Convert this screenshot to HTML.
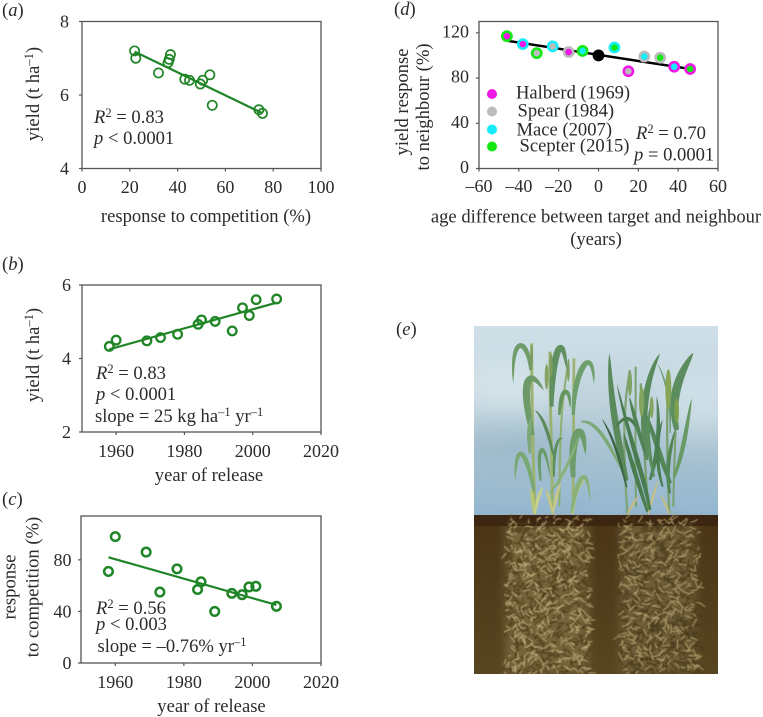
<!DOCTYPE html>
<html lang="en">
<head>
<meta charset="utf-8">
<title>Wheat yield and competition</title>
<style>
html,body{margin:0;padding:0;background:#fff;}
#fig{display:block;width:763px;height:717px;}
text{font-family:"Liberation Serif",serif;font-size:18.6px;fill:#2b2b2b;}
.it{font-style:italic;}
.sup{font-size:12.5px;}
</style>
</head>
<body>
<svg id="fig" xmlns="http://www.w3.org/2000/svg" width="763" height="717" viewBox="0 0 763 717">
  <defs>
    <filter id="soft" x="-5%" y="-5%" width="110%" height="110%"><feGaussianBlur stdDeviation="0.5"/></filter>
    <filter id="cloud" x="-50%" y="-80%" width="200%" height="260%"><feGaussianBlur stdDeviation="18"/></filter>
    <filter id="rootedge" x="-20%" y="-20%" width="140%" height="140%"><feGaussianBlur stdDeviation="5"/></filter>
    <linearGradient id="sky" x1="0" y1="0" x2="0" y2="1">
      <stop offset="0" stop-color="#cfe0e8"/>
      <stop offset="0.4" stop-color="#bfd2dc"/>
      <stop offset="0.65" stop-color="#a9c3d1"/>
      <stop offset="1" stop-color="#93b6cf"/>
    </linearGradient>
    <linearGradient id="soil" x1="0" y1="0" x2="0" y2="1">
      <stop offset="0" stop-color="#493416"/>
      <stop offset="1" stop-color="#574620"/>
    </linearGradient>
    <clipPath id="photo-clip"><rect x="474" y="326" width="244" height="348"/></clipPath>
  </defs>

  <!-- Panel a -->
  <g>
    <text x="2" y="16">(<tspan class="it">a</tspan>)</text>
    <g id="a-axes"></g>
    <g id="a-marks"></g>
    <text x="206" y="222" text-anchor="middle">response to competition (%)</text>
    <text transform="translate(39,94) rotate(-90)" text-anchor="middle">yield (t ha<tspan class="sup" dy="-6">–1</tspan><tspan dy="6">)</tspan></text>
    <text x="94" y="123"><tspan class="it">R</tspan><tspan class="sup" dy="-6">2</tspan><tspan dy="6"> = 0.83</tspan></text>
    <text x="94" y="144"><tspan class="it">p</tspan> &lt; 0.0001</text>
  </g>

  <!-- Panel b -->
  <g>
    <text x="2" y="270">(<tspan class="it">b</tspan>)</text>
    <g id="b-axes"></g>
    <g id="b-marks"></g>
    <text x="209" y="481" text-anchor="middle">year of release</text>
    <text transform="translate(39,355) rotate(-90)" text-anchor="middle">yield (t ha<tspan class="sup" dy="-6">–1</tspan><tspan dy="6">)</tspan></text>
    <text x="96" y="379"><tspan class="it">R</tspan><tspan class="sup" dy="-6">2</tspan><tspan dy="6"> = 0.83</tspan></text>
    <text x="96" y="400"><tspan class="it">p</tspan> &lt; 0.0001</text>
    <text x="95" y="422">slope = 25 kg ha<tspan class="sup" dy="-6">–1</tspan><tspan dy="6"> yr</tspan><tspan class="sup" dy="-6">–1</tspan></text>
  </g>

  <!-- Panel c -->
  <g>
    <text x="2" y="505">(<tspan class="it">c</tspan>)</text>
    <g id="c-axes"></g>
    <g id="c-marks"></g>
    <text x="211.5" y="712" text-anchor="middle">year of release</text>
    <text transform="translate(15.5,587) rotate(-90)" text-anchor="middle">response</text>
    <text transform="translate(38.5,587) rotate(-90)" text-anchor="middle">to competition (%)</text>
    <text x="96" y="614"><tspan class="it">R</tspan><tspan class="sup" dy="-6">2</tspan><tspan dy="6"> = 0.56</tspan></text>
    <text x="96" y="630"><tspan class="it">p</tspan> &lt; 0.003</text>
    <text x="97.5" y="652">slope = –0.76% yr<tspan class="sup" dy="-6">–1</tspan></text>
  </g>

  <!-- Panel d -->
  <g>
    <text x="394" y="15">(<tspan class="it">d</tspan>)</text>
    <g id="d-axes"></g>
    <g id="d-marks"></g>
    <text x="596" y="222.5" text-anchor="middle">age difference between target and neighbour</text>
    <text x="596" y="245" text-anchor="middle">(years)</text>
    <text transform="translate(408,102) rotate(-90)" text-anchor="middle">yield response</text>
    <text transform="translate(429,107) rotate(-90)" text-anchor="middle">to neighbour (%)</text>
    <g id="d-legend"></g>
    <text x="636" y="139"><tspan class="it">R</tspan><tspan class="sup" dy="-6">2</tspan><tspan dy="6"> = 0.70</tspan></text>
    <text x="634" y="160.5"><tspan class="it">p</tspan> = 0.0001</text>
  </g>

  <!-- Panel e -->
  <g>
    <text x="396" y="335">(<tspan class="it">e</tspan>)</text>
    <g clip-path="url(#photo-clip)">
      <rect x="474" y="326" width="244" height="190" fill="url(#sky)"/>
      <g filter="url(#cloud)">
        <ellipse cx="505" cy="385" rx="50" ry="24" fill="#d8e6ec"/>
        <ellipse cx="700" cy="395" rx="40" ry="34" fill="#d0e0e8"/>
        <ellipse cx="520" cy="450" rx="60" ry="20" fill="#9cb9ca"/>
      </g>
      <rect x="474" y="515" width="244" height="159" fill="url(#soil)"/>
      <g filter="url(#rootedge)">
        <rect x="506" y="522" width="82" height="152" fill="#75633b"/>
        <rect x="621" y="522" width="74" height="152" fill="#6e5d37"/>
      </g>
      <rect x="474" y="515" width="244" height="11" fill="#3c2611"/>
      <g id="roots" filter="url(#soft)"></g>
      <g id="plants" transform="translate(470,320) scale(0.33333)" filter="url(#soft)"></g>
    </g>
  </g>
</svg>

<script>
// ---- Panel a data ----
const aResponse = [22, 22.5, 32, 36, 36.5, 37, 43, 45, 49.5, 50.5, 53.5, 54.5, 74, 75.5];
const aYield = [7.2, 7.0, 6.6, 6.88, 6.97, 7.1, 6.43, 6.4, 6.3, 6.4, 6.55, 5.72, 5.6, 5.5];
const aFitX = [22, 75];
const aFitY = [7.18, 5.52];
const aXTicks = [0, 20, 40, 60, 80, 100];
const aYTicks = [4, 6, 8];

// ---- Panel b data ----
const bYears = [1958, 1960, 1969, 1973, 1978, 1984, 1985, 1989, 1994, 1997, 1999, 2001, 2007];
const bYield = [4.33, 4.5, 4.48, 4.57, 4.66, 4.93, 5.05, 5.01, 4.75, 5.38, 5.17, 5.6, 5.62];
const bFitX = [1958, 2007];
const bFitY = [4.25, 5.52];
const bXTicks = [1960, 1980, 2000, 2020];
const bYTicks = [2, 4, 6];

// ---- Panel c data ----
const cYears = [1958, 1960, 1969, 1973, 1978, 1984, 1985, 1989, 1994, 1997, 1999, 2001, 2007];
const cResponse = [71, 98, 86, 55, 73, 57, 63, 40, 54, 53, 59, 59.5, 44];
const cFitX = [1958, 2007];
const cFitY = [82, 45];
const cXTicks = [1960, 1980, 2000, 2020];
const cYTicks = [0, 40, 80];

// ---- Panel d data ----
const dAge = [-46, -38, -31, -23, -15, -8, 0, 8, 15, 23, 31, 38, 46];
const dResponse = [117, 110, 102, 108, 103, 104, 100, 107, 86, 99, 98, 90, 88];
const dTarget = ['Scepter', 'Mace', 'Scepter', 'Mace', 'Spear', 'Scepter', 'Black', 'Mace', 'Halberd', 'Spear', 'Spear', 'Halberd', 'Halberd'];
const dNeighbour = ['Halberd', 'Halberd', 'Spear', 'Spear', 'Halberd', 'Mace', 'Black', 'Scepter', 'Spear', 'Mace', 'Scepter', 'Mace', 'Scepter'];
const dFitX = [-46, 46];
const dFitY = [113, 88];
const dXTicks = [-60, -40, -20, 0, 20, 40, 60];
const dYTicks = [0, 40, 80, 120];
const dLegendNames = ['Halberd', 'Spear', 'Mace', 'Scepter'];
const dLegendLabels = ['Halberd (1969)', 'Spear (1984)', 'Mace (2007)', 'Scepter (2015)'];

const SVGNS = 'http://www.w3.org/2000/svg';
const GREEN = '#1f8526';
const AXIS = '#555555';
const VARIETY = {Halberd: '#f018e6', Spear: '#bcbcbc', Mace: '#14ecfa', Scepter: '#14e814', Black: '#000000'};

function scale(d0, d1, r0, r1) {
  return function (v) { return r0 + (v - d0) * (r1 - r0) / (d1 - d0); };
}
function make(tag, parent, attrs) {
  const el = document.createElementNS(SVGNS, tag);
  for (const k in attrs) el.setAttribute(k, attrs[k]);
  parent.appendChild(el);
  return el;
}
function fmt(v) { return String(v).replace('-', '\u2013'); }

function drawAxes(id, box, x, y, xTicks, yTicks, xLabelY, yLabelX, yBaseOffset) {
  const g = document.getElementById(id);
  const frame = make('rect', g, {x: box.l, y: box.t, width: box.r - box.l, height: box.b - box.t, fill: 'none', stroke: AXIS, 'stroke-width': 1.3});
  
  
  xTicks.forEach(function (t) {
    const mark = make('line', g, {x1: x(t), x2: x(t), y1: box.b, y2: box.b + 3, stroke: AXIS, 'stroke-width': 1.2});
    
    
    const lab = make('text', g, {x: x(t), y: xLabelY, 'text-anchor': 'middle', style: 'font-size:18px'});
    
    
    lab.textContent = fmt(t);
  });
  yTicks.forEach(function (t) {
    const mark = make('line', g, {x1: box.l - 3, x2: box.l, y1: y(t), y2: y(t), stroke: AXIS, 'stroke-width': 1.2});
    
    
    const lab = make('text', g, {x: yLabelX, y: y(t) + yBaseOffset, 'text-anchor': 'end', style: 'font-size:18px'});
    
    
    lab.textContent = fmt(t);
  });
}
function drawFit(g, x, y, xs, ys, color, w) {
  const fit = make('line', g, {x1: x(xs[0]), y1: y(ys[0]), x2: x(xs[1]), y2: y(ys[1]), stroke: color, 'stroke-width': w});
  
  
}
function drawRings(id, x, y, xs, ys, fitX, fitY, r, sw) {
  const g = document.getElementById(id);
  drawFit(g, x, y, fitX, fitY, GREEN, 2.2);
  xs.forEach(function (v, i) {
    const pt = make('circle', g, {cx: x(v), cy: y(ys[i]), r: r, fill: 'none', stroke: GREEN, 'stroke-width': sw});
    
    
  });
}

// Panel a
const aBox = {l: 82, r: 321, t: 21.5, b: 168.5};
const ax = scale(0, 100, aBox.l, aBox.r), ay = scale(4, 8, aBox.b, aBox.t);
drawAxes('a-axes', aBox, ax, ay, aXTicks, aYTicks, 193, 69, 6);
drawRings('a-marks', ax, ay, aResponse, aYield, aFitX, aFitY, 4.6, 1.7);

// Panel b
const bBox = {l: 82, r: 321, t: 285, b: 432};
const bx = scale(1950, 2020, bBox.l, bBox.r), by = scale(2, 6, bBox.b, bBox.t);
drawAxes('b-axes', bBox, bx, by, bXTicks, bYTicks, 457, 71, 6);
drawRings('b-marks', bx, by, bYears, bYield, bFitX, bFitY, 4.3, 2.3);

// Panel c
const cBox = {l: 81, r: 321, t: 516, b: 663};
const cx = scale(1950, 2020, cBox.l, cBox.r), cy = scale(0, 114, cBox.b, cBox.t);
drawAxes('c-axes', cBox, cx, cy, cXTicks, cYTicks, 688, 71.5, 6);
drawRings('c-marks', cx, cy, cYears, cResponse, cFitX, cFitY, 4.3, 2.5);

// Panel d
const dBox = {l: 479, r: 718, t: 21.5, b: 168.5};
const dx = scale(-60, 60, dBox.l, dBox.r), dy = scale(0, 130, dBox.b, dBox.t);
drawAxes('d-axes', dBox, dx, dy, dXTicks, dYTicks, 192, 469, 4.5);
const dMarks = document.getElementById('d-marks');
drawFit(dMarks, dx, dy, dFitX, dFitY, '#000000', 2.4);
dAge.forEach(function (v, i) {
  const pt = make('circle', dMarks, {cx: dx(v), cy: dy(dResponse[i]), r: 4.6, fill: VARIETY[dNeighbour[i]], stroke: VARIETY[dTarget[i]], 'stroke-width': 2.6});
  
  
});
const legendG = document.getElementById('d-legend');
const legendLabelX = [516, 517.5, 516.5, 519.5];
const legendLabelY = [98.5, 116.5, 135.5, 151.5];
const legendDotY = [94, 111.5, 129.5, 146.5];
dLegendNames.forEach(function (n, i) {
  const dot = make('circle', legendG, {cx: 492, cy: legendDotY[i], r: 5, fill: VARIETY[n]});
  
  
  const lab = make('text', legendG, {x: legendLabelX[i], y: legendLabelY[i]});
  
  
  lab.textContent = dLegendLabels[i];
});

// ---- Illustration: roots (deterministic texture) ----
let seed = 20231;
function rnd() { seed = (seed * 1664525 + 1013904223) % 4294967296; return seed / 4294967296; }
function rootStrokes(x0, x1, y0, y1, n, len) {
  let d = '';
  for (let i = 0; i < n; i++) {
    const px = x0 + (x1 - x0) * rnd();
    const py = y0 + (y1 - y0) * rnd();
    const a = (rnd() - 0.5) * 2.2 + (rnd() < 0.75 ? 0 : Math.PI / 2);
    const l = len * (0.4 + rnd());
    const qx = px + Math.cos(a) * l * 0.5 + (rnd() - 0.5) * 3;
    const qy = py + Math.sin(a) * l * 0.5 + (rnd() - 0.5) * 3;
    d += 'M' + px.toFixed(1) + ' ' + py.toFixed(1) + 'Q' + qx.toFixed(1) + ' ' + qy.toFixed(1) + ' ' + (px + Math.cos(a) * l).toFixed(1) + ' ' + (py + Math.sin(a) * l).toFixed(1);
  }
  return d;
}
const rootsG = document.getElementById('roots');
const rootLayers = [
  {x0: 504, x1: 590, y0: 520, y1: 674, n: 650, len: 7, c: '#4f3f1c', w: 1.1},
  {x0: 504, x1: 590, y0: 518, y1: 674, n: 430, len: 5.5, c: '#c2ad7b', w: 0.85},
  {x0: 618, x1: 698, y0: 520, y1: 674, n: 620, len: 8, c: '#4c3c1b', w: 1.1},
  {x0: 618, x1: 698, y0: 518, y1: 674, n: 310, len: 6.5, c: '#b8a36f', w: 0.85}
];
rootLayers.forEach(function (L) {
  const p = make('path', rootsG, {d: rootStrokes(L.x0, L.x1, L.y0, L.y1, L.n, L.len), fill: 'none', stroke: L.c, 'stroke-width': L.w, 'stroke-linecap': 'round'});
  
  
});

// ---- Illustration: leaves and stems (tapered bezier shapes) ----
function blade(s, c1, c2, e, w, flat) {
  const L = [], R = [];
  const N = 18;
  for (let i = 0; i <= N; i++) {
    const t = i / N, u = 1 - t;
    const bx = u*u*u*s[0] + 3*u*u*t*c1[0] + 3*u*t*t*c2[0] + t*t*t*e[0];
    const by = u*u*u*s[1] + 3*u*u*t*c1[1] + 3*u*t*t*c2[1] + t*t*t*e[1];
    let tx = 3*u*u*(c1[0]-s[0]) + 6*u*t*(c2[0]-c1[0]) + 3*t*t*(e[0]-c2[0]);
    let ty = 3*u*u*(c1[1]-s[1]) + 6*u*t*(c2[1]-c1[1]) + 3*t*t*(e[1]-c2[1]);
    const m = Math.hypot(tx, ty) || 1; tx /= m; ty /= m;
    const hw = flat ? w / 2 : (w / 2) * Math.pow(Math.sin(Math.PI * Math.min(1, 0.12 + t * 0.88)), 0.6);
    L.push((bx - ty * hw).toFixed(1) + ' ' + (by + tx * hw).toFixed(1));
    R.unshift((bx + ty * hw).toFixed(1) + ' ' + (by - tx * hw).toFixed(1));
  }
  return 'M' + L.join('L') + 'L' + R.join('L') + 'Z';
}
const stems = [
  [[195,582],[190,420],[185,250],[185,70],9,'#9cb272'],
  [[248,582],[245,400],[240,250],[240,95],9,'#9ab272'],
  [[308,582],[312,420],[310,250],[312,115],8,'#9cb272'],
  [[268,560],[270,400],[268,280],[295,130],6,'#8fae70'],
  [[472,582],[462,420],[455,280],[480,150],7,'#7fa478'],
  [[535,582],[525,420],[515,280],[512,190],7,'#7aa070'],
  [[598,582],[590,420],[590,280],[595,150],7,'#7aa070'],
  [[610,560],[612,420],[618,330],[620,240],6,'#7aa070'],
  [[498,560],[495,400],[497,280],[497,140],6,'#7aa070']
];
const baseLeaves = [
  [[195,582],[200,540],[210,520],[218,500],10,'#c6cf8c'],
  [[192,582],[188,540],[186,520],[182,505],10,'#b9c878'],
  [[248,582],[255,540],[265,510],[272,488],9,'#c9c78c'],
  [[248,582],[240,545],[235,525],[228,508],9,'#c2c884'],
  [[308,582],[312,530],[320,500],[345,480],10,'#bcc980'],
  [[472,582],[485,560],[495,540],[505,528],7,'#c4bb85'],
  [[535,582],[545,540],[555,510],[565,480],7,'#c8c188'],
  [[598,582],[590,560],[580,540],[572,525],7,'#c4bb85']
];
const leavesLeft = [
  [[182,150],[176,60],[122,30],[130,192],15,'#6f9c6a'],
  [[245,260],[245,100],[278,15],[290,150],20,'#5f9060'],
  [[310,285],[310,150],[370,60],[372,192],17,'#6f9f6e'],
  [[188,345],[155,210],[165,120],[222,212],22,'#6d9a68'],
  [[192,515],[172,400],[138,345],[135,482],14,'#78a872'],
  [[212,482],[198,360],[226,360],[240,470],11,'#6a9a68'],
  [[310,472],[298,330],[342,285],[346,405],24,'#6c9d6a'],
  [[305,575],[322,470],[352,420],[360,542],13,'#88b078'],
  [[250,405],[235,340],[222,295],[195,270],10,'#5c8a5a'],
  [[268,285],[272,190],[302,200],[300,265],13,'#65965f'],
  [[252,470],[250,390],[262,350],[278,355],9,'#5c8f5c'],
  [[335,305],[385,300],[425,390],[465,468],11,'#7caa78'],
  [[180,400],[175,340],[178,310],[186,290],13,'#7da878'],
  [[240,520],[285,460],[300,420],[330,340],9,'#88b078']
];
const leavesRight = [
  [[470,482],[440,340],[420,240],[418,98],20,'#5a8a5c'],
  [[440,320],[470,270],[500,300],[520,380],10,'#4a7a4e'],
  [[530,420],[510,280],[530,170],[570,100],19,'#5a8a5c'],
  [[620,330],[598,230],[630,160],[670,98],26,'#5c8d5e'],
  [[612,472],[640,400],[650,320],[665,235],13,'#689a66'],
  [[470,502],[450,420],[430,350],[395,295],8,'#3d6644'],
  [[540,570],[520,460],[490,400],[440,190],14,'#4a7c50'],
  [[602,490],[572,420],[552,340],[522,270],15,'#528656'],
  [[540,480],[562,410],[572,330],[560,228],13,'#4e8054'],
  [[532,575],[502,480],[472,390],[462,340],13,'#4a7c50'],
  [[578,500],[556,430],[560,350],[578,300],10,'#4a7c50'],
  [[600,340],[604,260],[590,180],[562,130],6,'#6a9a70'],
  [[525,400],[505,330],[490,280],[478,230],12,'#4f8254'],
  [[552,470],[535,400],[530,330],[540,260],11,'#5a8d5c'],
  [[600,520],[585,450],[600,390],[615,330],12,'#528656']
];
const ears = [
  [185,112,4,36,'#7f9c60'],[230,170,6,38,'#86a266'],[243,135,5,36,'#7f9c60'],
  [295,150,4,34,'#7f9c60'],[480,190,6,38,'#7ea262'],[515,245,8,44,'#82a45c'],
  [595,208,9,60,'#86a654'],[620,272,7,38,'#7ea04e'],[545,262,6,32,'#82a45c']
];
const plantsG = document.getElementById('plants');
stems.concat(baseLeaves).forEach(function (b, i) {
  const st = make('path', plantsG, {d: blade(b[0], b[1], b[2], b[3], b[4], i < stems.length), fill: b[5]});
  
  
});
leavesLeft.concat(leavesRight).forEach(function (b) {
  const lf = make('path', plantsG, {d: blade(b[0], b[1], b[2], b[3], b[4], false), fill: b[5]});
  
  
});
ears.forEach(function (e) {
  const ear = make('ellipse', plantsG, {cx: e[0], cy: e[1], rx: e[2], ry: e[3], fill: e[4]});
  
  
});
</script>
</body>
</html>
